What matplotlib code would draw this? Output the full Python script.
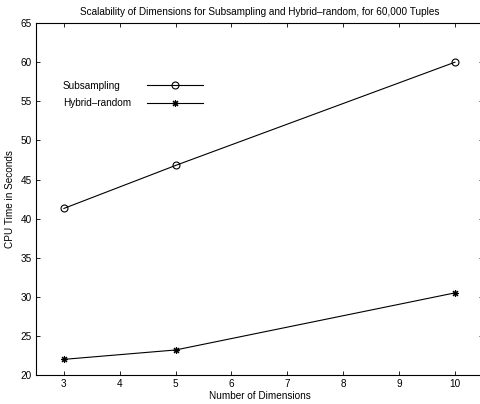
"""Scalability of dimensions: Subsampling vs Hybrid-random."""

import matplotlib.pyplot as plt

plt.rcParams["font.family"] = ["Liberation Sans", "DejaVu Sans"]
plt.rcParams["font.size"] = 7.2

dimensions = [3, 5, 10]
subsampling = [41.3, 46.8, 60.0]
hybrid_random = [22.0, 23.2, 30.5]
series_names = ["Subsampling", "Hybrid\u2013random"]

fig = plt.figure(figsize=(4.81, 4.04), dpi=100)
ax = fig.add_axes([0.0748, 0.0718, 0.929, 0.871])

l1, = ax.plot(dimensions, subsampling, color="black", lw=0.8, marker="o",
              markersize=5, markerfacecolor="none", markeredgewidth=0.8)
l2, = ax.plot(dimensions, hybrid_random, color="black", lw=0.8, marker=(8, 2, 0),
              markersize=5, markeredgewidth=0.8)

ax.set_xlim(2.5, 10.5)
ax.set_ylim(20, 65)
ax.set_xticks(range(3, 11))
ax.set_yticks(range(20, 66, 5))
ax.tick_params(direction="in", top=True, right=True, length=3, width=0.6,
               labelsize=7.2, pad=3)
for spine in ax.spines.values():
    spine.set_linewidth(0.8)

ax.set_title("Scalability of Dimensions for Subsampling and Hybrid\u2013random, for 60,000 Tuples",
             fontsize=7.2, pad=6)
ax.set_xlabel("Number of Dimensions", fontsize=7.2, labelpad=1)
ax.set_ylabel("CPU Time in Seconds", fontsize=7.2, labelpad=4)

# MATLAB-style legend: names on the left, line samples to the right
ax.legend([l1, l2], ["", ""], loc="upper left", bbox_to_anchor=(0.248, 0.836),
          frameon=False, handlelength=5.6, handletextpad=0.0, borderpad=0,
          borderaxespad=0, labelspacing=0.75)
for row, name in enumerate(series_names):
    ax.text(0.0604, 0.821 - row * 0.048, name, transform=ax.transAxes,
            va="center", ha="left")

fig.savefig("out.png", dpi=100)
